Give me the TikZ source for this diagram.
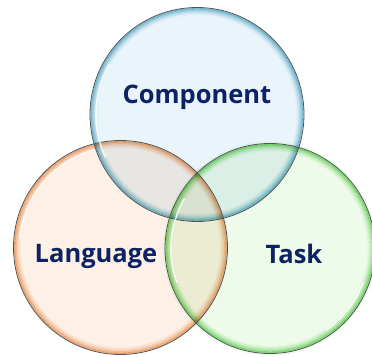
\documentclass[tikz,border=0pt]{standalone}
\usepackage{fontspec}
\setsansfont{Open Sans}
\usetikzlibrary{positioning}

\definecolor{labelblue}{RGB}{12,34,98}
\definecolor{rimgray}{RGB}{80,84,86}
\definecolor{compfill}{RGB}{234,244,251}
\definecolor{compedge}{RGB}{105,182,204}
\definecolor{langfill}{RGB}{253,241,231}
\definecolor{langedge}{RGB}{238,160,100}
\definecolor{taskfill}{RGB}{238,250,234}
\definecolor{taskedge}{RGB}{112,214,98}

\tikzset{
  set/.style={circle, minimum size=214pt, inner sep=0pt, fill=#1fill},
  setname/.style={font=\sffamily\bfseries\fontsize{25.5}{25.5}\selectfont,
    text=labelblue, anchor=base},
  rim/.style={draw=rimgray, line width=0.8pt},
  shine/.style={white, line width=1.6pt, opacity=0.8, line cap=round},
}

% soft coloured band on the inside of a circle
\newcommand\glowring[3]{%
  \foreach \d/\o in {1.2/0.8, 2.6/0.55, 4/0.35, 5.4/0.2, 6.8/0.08}
    \draw[#3, line width=1.5pt, opacity=\o] (#1) circle[radius=#2-\d];%
}

\begin{document}
\begin{tikzpicture}[x=1pt, y=1pt]
  \useasboundingbox (0,0) rectangle (372,-356);

  \begin{scope}[blend mode=multiply]
    \node[set=comp] (comp) at (197,-114.5) {};
    \node[set=lang] (lang) at (120.5,-247.5) {};
    \node[set=task] (task) at (270,-248.5) {};

    \glowring{comp}{107}{compedge}
    \glowring{lang}{107}{langedge}
    \glowring{task}{105}{taskedge}
  \end{scope}

  % outer rims
  \draw[rim] (comp) circle[radius=107];
  \draw[rim] (lang) circle[radius=107];
  \draw[rim] (task) circle[radius=105];

  % glossy highlights
  \draw[shine] (comp) ++(150:101) arc[start angle=150, end angle=205, radius=101];
  \draw[shine] (lang) ++(105:101) arc[start angle=105, end angle=175, radius=101];
  \draw[shine] (task) ++(150:99) arc[start angle=150, end angle=200, radius=99];
  \draw[shine] (task) ++(-20:99) arc[start angle=-20, end angle=-55, radius=99];

  \node[setname] (compname) at (197,-103) {Component};
  \node[setname] (langname) at (96,-262) {Language};
  \node[setname] (taskname) at (294,-263) {Task};
\end{tikzpicture}
\end{document}
